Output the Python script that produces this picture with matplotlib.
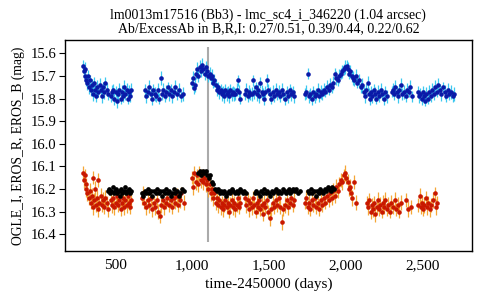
import numpy as np
import matplotlib
matplotlib.use("Agg")
import matplotlib.pyplot as plt
from matplotlib.ticker import FuncFormatter

plt.rcParams["font.family"] = ["Liberation Serif", "DejaVu Serif"]

TITLE = ("lm0013m17516 (Bb3) - lmc_sc4_i_346220 (1.04 arcsec)\n"
         "Ab/ExcessAb in B,R,I: 0.27/0.51, 0.39/0.44, 0.22/0.62")
XLABEL = "time-2450000 (days)"
YLABEL = "OGLE_I, EROS_R, EROS_B (mag)"
X_TICKS = [500, 1000, 1500, 2000, 2500]
Y_TICKS = [15.6, 15.7, 15.8, 15.9, 16.0, 16.1, 16.2, 16.3, 16.4]
EVENT_DAY = 1102

# (day, mag, err)
EROS_B = [
    (290, 15.655, .025), (295, 15.68, .03), (300, 15.70, .025), (305, 15.67, .03),
    (310, 15.72, .025), (318, 15.73, .03), (322, 15.70, .025), (330, 15.75, .03),
    (336, 15.72, .025), (342, 15.76, .03), (350, 15.74, .025), (356, 15.78, .03),
    (362, 15.73, .025), (370, 15.76, .03), (376, 15.79, .025), (382, 15.75, .03),
    (390, 15.77, .025), (398, 15.74, .03), (405, 15.76, .025), (412, 15.79, .03),
    (420, 15.75, .025), (428, 15.77, .03), (436, 15.73, .025), (444, 15.76, .03),
    (452, 15.78, .025),
    (470, 15.79, .025), (478, 15.77, .03), (486, 15.76, .025), (494, 15.80, .03),
    (502, 15.77, .025), (509, 15.81, .03), (518, 15.78, .025), (526, 15.76, .03),
    (534, 15.80, .025), (542, 15.77, .03), (550, 15.79, .025), (558, 15.75, .03),
    (566, 15.78, .025), (574, 15.76, .03), (582, 15.80, .025), (590, 15.77, .03),
    (598, 15.79, .025), (604, 15.76, .03),
    (694, 15.76, .025), (702, 15.79, .03), (712, 15.77, .025), (720, 15.75, .03),
    (730, 15.78, .025), (740, 15.80, .03), (748, 15.76, .025), (756, 15.78, .03),
    (766, 15.79, .025), (776, 15.76, .03), (786, 15.80, .025), (796, 15.71, .03),
    (804, 15.78, .025), (812, 15.76, .03), (822, 15.79, .025), (832, 15.77, .03),
    (842, 15.75, .025), (852, 15.78, .03), (862, 15.76, .025), (872, 15.79, .03),
    (882, 15.77, .025), (892, 15.75, .03), (902, 15.78, .025), (912, 15.76, .03),
    (925, 15.79, .025), (940, 15.78, .03),
    (998, 15.73, .025), (1004, 15.71, .03), (1010, 15.755, .025), (1018, 15.74, .03),
    (1026, 15.69, .025), (1034, 15.67, .03), (1042, 15.70, .025), (1050, 15.66, .03),
    (1058, 15.68, .025), (1066, 15.65, .03), (1074, 15.67, .025), (1082, 15.69, .03),
    (1090, 15.66, .025), (1098, 15.68, .03), (1106, 15.70, .025), (1114, 15.69, .03),
    (1122, 15.71, .025), (1130, 15.70, .03), (1138, 15.73, .025), (1146, 15.72, .03),
    (1154, 15.74, .025), (1162, 15.76, .03), (1170, 15.75, .025), (1178, 15.77, .03),
    (1186, 15.76, .025), (1194, 15.78, .03), (1202, 15.77, .025), (1210, 15.79, .03),
    (1218, 15.76, .025), (1226, 15.78, .03), (1234, 15.77, .025), (1242, 15.79, .03),
    (1250, 15.76, .025), (1258, 15.78, .03), (1266, 15.77, .025), (1274, 15.78, .03),
    (1282, 15.78, .025), (1290, 15.76, .03), (1299, 15.72, .025), (1306, 15.77, .03),
    (1314, 15.80, .025),
    (1344, 15.78, .025), (1352, 15.76, .03), (1362, 15.79, .025), (1372, 15.77, .03),
    (1380, 15.78, .025), (1388, 15.78, .03), (1396, 15.72, .025), (1406, 15.77, .03),
    (1414, 15.75, .025), (1422, 15.78, .03), (1430, 15.76, .025), (1438, 15.79, .03),
    (1446, 15.73, .025), (1454, 15.77, .03), (1462, 15.78, .025), (1470, 15.80, .03),
    (1478, 15.77, .025), (1486, 15.72, .03), (1496, 15.76, .025), (1506, 15.78, .03),
    (1516, 15.80, .025), (1526, 15.77, .03), (1536, 15.79, .025), (1546, 15.76, .03),
    (1556, 15.78, .025), (1566, 15.77, .03), (1576, 15.79, .025), (1586, 15.76, .03),
    (1596, 15.78, .025), (1606, 15.80, .03), (1616, 15.77, .025), (1626, 15.79, .03),
    (1636, 15.76, .025), (1646, 15.78, .03), (1658, 15.77, .025), (1668, 15.79, .03),
    (1735, 15.78, .025), (1745, 15.77, .03), (1755, 15.69, .025), (1762, 15.79, .03),
    (1770, 15.78, .025), (1780, 15.80, .03), (1790, 15.77, .025), (1800, 15.79, .03),
    (1810, 15.78, .025), (1820, 15.76, .03), (1830, 15.79, .025), (1840, 15.77, .03),
    (1850, 15.78, .025), (1860, 15.76, .03), (1870, 15.77, .025), (1880, 15.75, .03),
    (1890, 15.76, .025), (1900, 15.74, .03), (1910, 15.75, .025), (1920, 15.73, .03),
    (1930, 15.69, .025), (1940, 15.71, .03), (1950, 15.72, .025), (1960, 15.70, .03),
    (1970, 15.69, .025), (1980, 15.68, .03), (1990, 15.67, .025), (2000, 15.66, .03),
    (2008, 15.655, .025), (2016, 15.67, .03), (2024, 15.69, .025), (2032, 15.68, .03),
    (2040, 15.70, .025), (2048, 15.71, .03), (2058, 15.72, .025), (2068, 15.70, .03),
    (2078, 15.73, .025), (2090, 15.72, .03), (2100, 15.75, .025), (2110, 15.74, .03),
    (2120, 15.77, .025), (2128, 15.79, .03), (2136, 15.76, .025), (2144, 15.73, .03),
    (2152, 15.78, .025), (2160, 15.80, .03), (2168, 15.77, .025), (2176, 15.79, .03),
    (2184, 15.76, .025), (2192, 15.78, .03), (2200, 15.80, .025), (2210, 15.77, .03),
    (2220, 15.79, .025), (2230, 15.76, .03), (2240, 15.78, .025), (2250, 15.80, .03),
    (2260, 15.77, .025), (2272, 15.79, .03),
    (2302, 15.77, .025), (2310, 15.76, .03), (2318, 15.78, .025), (2326, 15.75, .03),
    (2334, 15.77, .025), (2342, 15.79, .03), (2352, 15.76, .025), (2362, 15.74, .03),
    (2372, 15.78, .025), (2382, 15.77, .03), (2392, 15.79, .025), (2402, 15.76, .03),
    (2412, 15.77, .025), (2422, 15.75, .03), (2432, 15.79, .025),
    (2472, 15.77, .025), (2480, 15.79, .03), (2488, 15.78, .025), (2496, 15.80, .03),
    (2504, 15.77, .025), (2512, 15.79, .03), (2520, 15.81, .025), (2528, 15.78, .03),
    (2536, 15.80, .025), (2546, 15.77, .03), (2556, 15.79, .025), (2566, 15.76, .03),
    (2576, 15.78, .025), (2586, 15.75, .03), (2596, 15.77, .025), (2606, 15.74, .03),
    (2616, 15.76, .025), (2626, 15.78, .03), (2636, 15.75, .025), (2646, 15.77, .03),
    (2656, 15.79, .025), (2666, 15.76, .03), (2676, 15.78, .025), (2688, 15.77, .03),
    (2700, 15.79, .025), (2710, 15.78, .03),
]

EROS_R = [
    (290, 16.13, .03), (295, 16.16, .035), (300, 16.14, .03), (306, 16.20, .035),
    (312, 16.18, .03), (318, 16.22, .035), (326, 16.24, .03), (332, 16.21, .035),
    (340, 16.26, .03), (346, 16.23, .035), (352, 16.15, .03), (354, 16.28, .035),
    (360, 16.25, .03), (366, 16.20, .035), (372, 16.27, .03), (380, 16.24, .035),
    (384, 16.16, .03), (388, 16.29, .035), (396, 16.26, .03), (404, 16.23, .035),
    (412, 16.27, .03), (420, 16.25, .035), (428, 16.28, .03), (436, 16.24, .035),
    (444, 16.26, .03), (452, 16.29, .035),
    (470, 16.25, .03), (478, 16.27, .035), (486, 16.24, .03), (494, 16.28, .035),
    (502, 16.26, .03), (510, 16.23, .035), (518, 16.27, .03), (526, 16.25, .035),
    (534, 16.29, .03), (542, 16.26, .035), (550, 16.24, .03), (558, 16.28, .035),
    (566, 16.25, .03), (574, 16.27, .035), (582, 16.23, .03), (590, 16.26, .035),
    (598, 16.28, .03), (604, 16.25, .035),
    (672, 16.24, .03), (680, 16.22, .035), (690, 16.26, .03), (700, 16.28, .035),
    (710, 16.25, .03), (720, 16.27, .035), (730, 16.24, .03), (740, 16.29, .035),
    (750, 16.26, .03), (760, 16.28, .035), (770, 16.25, .03), (780, 16.30, .035),
    (790, 16.32, .03), (800, 16.27, .035), (810, 16.25, .03), (820, 16.28, .035),
    (830, 16.26, .03), (840, 16.24, .035), (850, 16.27, .03), (860, 16.25, .035),
    (870, 16.28, .03), (880, 16.24, .035), (890, 16.26, .03), (900, 16.23, .035),
    (910, 16.27, .03), (920, 16.25, .035), (930, 16.22, .03), (945, 16.26, .035),
    (1000, 16.15, .03), (1008, 16.19, .035), (1016, 16.13, .03), (1024, 16.17, .035),
    (1032, 16.14, .03), (1040, 16.18, .035), (1048, 16.13, .03), (1056, 16.16, .035),
    (1064, 16.14, .03), (1072, 16.17, .035), (1080, 16.15, .03), (1090, 16.18, .035),
    (1098, 16.16, .03), (1106, 16.20, .035), (1114, 16.18, .03), (1122, 16.22, .035),
    (1130, 16.20, .03), (1138, 16.24, .035), (1146, 16.22, .03), (1154, 16.26, .035),
    (1162, 16.24, .03), (1170, 16.27, .035), (1178, 16.25, .03), (1186, 16.28, .035),
    (1194, 16.26, .03), (1202, 16.29, .035), (1210, 16.27, .03), (1218, 16.25, .035),
    (1226, 16.28, .03), (1234, 16.26, .035), (1242, 16.30, .03), (1250, 16.27, .035),
    (1258, 16.25, .03), (1266, 16.28, .035), (1274, 16.26, .03), (1282, 16.29, .035),
    (1290, 16.27, .03), (1298, 16.24, .035), (1306, 16.28, .03), (1316, 16.26, .035),
    (1344, 16.24, .03), (1352, 16.27, .035), (1362, 16.25, .03), (1372, 16.29, .035),
    (1380, 16.26, .03), (1390, 16.28, .035), (1398, 16.24, .03), (1406, 16.27, .035),
    (1414, 16.30, .03), (1422, 16.26, .035), (1430, 16.28, .03), (1438, 16.25, .035),
    (1446, 16.29, .03), (1454, 16.27, .035), (1462, 16.31, .03), (1470, 16.26, .035),
    (1478, 16.28, .03), (1488, 16.25, .035), (1496, 16.30, .03), (1508, 16.33, .035),
    (1516, 16.29, .03), (1526, 16.26, .035), (1536, 16.28, .03), (1546, 16.25, .035),
    (1556, 16.27, .03), (1566, 16.24, .035), (1576, 16.28, .03), (1584, 16.345, .035),
    (1596, 16.29, .03), (1606, 16.27, .035), (1616, 16.25, .03), (1626, 16.28, .035),
    (1636, 16.26, .03), (1646, 16.24, .035), (1658, 16.27, .03), (1668, 16.25, .035),
    (1738, 16.26, .03), (1746, 16.24, .035), (1754, 16.28, .03), (1762, 16.26, .035),
    (1770, 16.29, .03), (1780, 16.25, .035), (1790, 16.27, .03), (1800, 16.24, .035),
    (1810, 16.28, .03), (1820, 16.26, .035), (1830, 16.29, .03), (1840, 16.25, .035),
    (1850, 16.27, .03), (1860, 16.24, .035), (1870, 16.26, .03), (1880, 16.23, .035),
    (1890, 16.25, .03), (1900, 16.22, .035), (1910, 16.24, .03), (1920, 16.21, .035),
    (1930, 16.23, .03), (1940, 16.19, .035), (1950, 16.21, .03), (1960, 16.18, .035),
    (1970, 16.16, .03), (1980, 16.17, .035), (1990, 16.14, .03), (1998, 16.13, .035),
    (2006, 16.15, .03), (2014, 16.17, .035), (2022, 16.20, .03), (2030, 16.19, .035),
    (2038, 16.22, .03), (2046, 16.24, .035), (2058, 16.17, .03), (2070, 16.26, .035),
    (2140, 16.26, .03), (2148, 16.28, .035), (2156, 16.25, .03), (2164, 16.30, .035),
    (2172, 16.27, .03), (2180, 16.29, .035), (2188, 16.26, .03), (2196, 16.31, .035),
    (2204, 16.28, .03), (2212, 16.25, .035), (2220, 16.29, .03), (2228, 16.27, .035),
    (2236, 16.30, .03), (2244, 16.26, .035), (2252, 16.28, .03), (2260, 16.25, .035),
    (2270, 16.29, .03), (2280, 16.27, .035), (2290, 16.30, .03), (2300, 16.26, .035),
    (2310, 16.28, .03), (2320, 16.25, .035), (2330, 16.29, .03), (2340, 16.27, .035),
    (2350, 16.30, .03), (2362, 16.26, .035),
    (2398, 16.25, .03), (2410, 16.29, .035), (2425, 16.28, .03),
    (2474, 16.27, .03), (2484, 16.23, .035), (2490, 16.28, .03), (2498, 16.26, .035),
    (2506, 16.29, .03), (2514, 16.27, .035), (2522, 16.24, .03), (2530, 16.28, .035),
    (2540, 16.26, .03), (2550, 16.29, .035), (2560, 16.27, .03), (2570, 16.25, .035),
    (2583, 16.22, .03), (2590, 16.28, .035), (2598, 16.26, .03),
]

OGLE_I = [
    (450, 16.21), (458, 16.20), (466, 16.22), (474, 16.21), (482, 16.19), (490, 16.22),
    (498, 16.21), (506, 16.20), (514, 16.22), (522, 16.21), (530, 16.23), (538, 16.20),
    (546, 16.22), (554, 16.21), (562, 16.19), (570, 16.22), (578, 16.21), (586, 16.20),
    (594, 16.22), (600, 16.21),
    (672, 16.22), (682, 16.23), (692, 16.21), (702, 16.22), (712, 16.20), (722, 16.22),
    (732, 16.21), (742, 16.23), (752, 16.21), (762, 16.22), (772, 16.20), (782, 16.22),
    (792, 16.21), (802, 16.23), (812, 16.21), (822, 16.22), (832, 16.20), (842, 16.22),
    (852, 16.21), (862, 16.23), (872, 16.22), (882, 16.20), (892, 16.22), (902, 16.21),
    (912, 16.23), (922, 16.22), (935, 16.20), (950, 16.21),
    (1040, 16.13), (1050, 16.12), (1060, 16.14), (1070, 16.12), (1080, 16.13), (1090, 16.12),
    (1100, 16.14), (1110, 16.15), (1120, 16.14), (1130, 16.17), (1140, 16.18), (1150, 16.20),
    (1160, 16.21), (1170, 16.20), (1180, 16.22), (1190, 16.21), (1200, 16.22), (1210, 16.21),
    (1220, 16.23), (1230, 16.22), (1240, 16.21), (1250, 16.22), (1260, 16.20), (1270, 16.21),
    (1280, 16.22), (1290, 16.21), (1300, 16.22), (1310, 16.20), (1320, 16.21), (1330, 16.22),
    (1340, 16.21), (1352, 16.22),
    (1410, 16.22), (1420, 16.21), (1430, 16.22), (1440, 16.23), (1450, 16.21), (1460, 16.22),
    (1470, 16.20), (1480, 16.22), (1490, 16.21), (1500, 16.22), (1510, 16.23), (1520, 16.21),
    (1530, 16.22), (1540, 16.21), (1550, 16.20), (1560, 16.22), (1570, 16.21), (1580, 16.22),
    (1590, 16.20), (1600, 16.21), (1610, 16.22), (1620, 16.21), (1630, 16.20), (1640, 16.22),
    (1650, 16.21), (1660, 16.20), (1670, 16.21), (1680, 16.20), (1690, 16.22), (1702, 16.21),
    (1755, 16.21), (1765, 16.22), (1775, 16.20), (1785, 16.22), (1795, 16.21), (1805, 16.23),
    (1815, 16.21), (1825, 16.22), (1835, 16.20), (1845, 16.21), (1855, 16.22), (1865, 16.20),
    (1875, 16.21), (1885, 16.19), (1895, 16.20), (1905, 16.21), (1915, 16.19), (1928, 16.20),
]

b_t, b_mag, b_err = np.array(EROS_B).T
r_t, r_mag, r_err = np.array(EROS_R).T
i_t, i_mag = np.array(OGLE_I).T

fig = plt.figure(figsize=(4.8, 3.0), dpi=100)
ax = fig.add_axes([0.1354, 0.163, 0.8476, 0.705])

ax.errorbar(b_t, b_mag, yerr=b_err, fmt="o", color="#0a1aa8", ms=3.3,
            ecolor="#3cc8f0", elinewidth=0.9, capsize=1.5, capthick=0.9,
            markeredgewidth=0, zorder=3)
ax.errorbar(r_t, r_mag, yerr=r_err, fmt="o", color="#c81800", ms=3.3,
            ecolor="#f5a636", elinewidth=0.9, capsize=1.5, capthick=0.9,
            markeredgewidth=0, zorder=3)
ax.plot(i_t, i_mag, "o", color="black", ms=3.4, markeredgewidth=0, zorder=4)

ax.vlines(EVENT_DAY, 15.57, 16.435, color="#aaaaaa", lw=1.5, zorder=2)

ax.set_xlim(172, 2824)
ax.set_ylim(16.475, 15.539)
ax.set_xticks(X_TICKS)
ax.set_yticks(Y_TICKS)
ax.xaxis.set_major_formatter(FuncFormatter(lambda v, p: f"{v:,.0f}"))
ax.yaxis.set_major_formatter(FuncFormatter(lambda v, p: f"{v:.1f}"))
ax.tick_params(axis="x", length=0, pad=6, labelsize=11)
ax.tick_params(axis="y", direction="out", length=4, width=0.8, pad=2, labelsize=10.5)
for sp in ax.spines.values():
    sp.set_linewidth(1.0)

ax.set_xlabel(XLABEL, fontsize=11, labelpad=4)
ax.set_ylabel(YLABEL, fontsize=9.8, labelpad=4)
ax.set_title(TITLE, fontsize=10, pad=5, linespacing=1.1)

fig.savefig("out.png", dpi=100)
